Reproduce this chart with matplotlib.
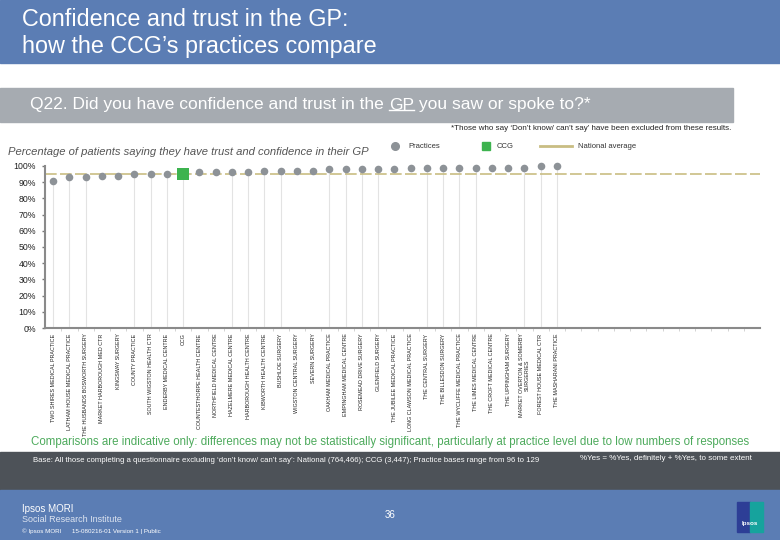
import matplotlib.pyplot as plt
from matplotlib.patches import Rectangle

# data (percent saying they have trust / confidence)
practices = [
    "TWO SHIRES MEDICAL PRACTICE",
    "LATHAM HOUSE MEDICAL PRACTICE",
    "THE HUSBANDS BOSWORTH SURGERY",
    "MARKET HARBOROUGH MED CTR",
    "KINGSWAY SURGERY",
    "COUNTY PRACTICE",
    "SOUTH WIGSTON HEALTH CTR",
    "ENDERBY MEDICAL CENTRE",
    "CCG",
    "COUNTESTHORPE HEALTH CENTRE",
    "NORTHFIELD MEDICAL CENTRE",
    "HAZELMERE MEDICAL CENTRE",
    "HARBOROUGH HEALTH CENTRE",
    "KIBWORTH HEALTH CENTRE",
    "BUSHLOE SURGERY",
    "WIGSTON CENTRAL SURGERY",
    "SEVERN SURGERY",
    "OAKHAM MEDICAL PRACTICE",
    "EMPINGHAM MEDICAL CENTRE",
    "ROSEMEAD DRIVE SURGERY",
    "GLENFIELD SURGERY",
    "THE JUBILEE MEDICAL PRACTICE",
    "LONG CLAWSON MEDICAL PRACTICE",
    "THE CENTRAL SURGERY",
    "THE BILLESDON SURGERY",
    "THE WYCLIFFE MEDICAL PRACTICE",
    "THE LIMES MEDICAL CENTRE",
    "THE CROFT MEDICAL CENTRE",
    "THE UPPINGHAM SURGERY",
    "MARKET OVERTON & SOMERBY\nSURGERIES",
    "FOREST HOUSE MEDICAL CTR",
    "THE MASHARANI PRACTICE",
]
values = [91, 93, 93, 94, 94, 95, 95, 95, 95,
          96, 96, 96, 96, 97, 97, 97, 97,
          98, 98, 98, 98, 98,
          99, 99, 99, 99, 99, 99, 99, 99,
          100, 100]
national_avg = 95
y_ticks = [0, 10, 20, 30, 40, 50, 60, 70, 80, 90, 100]
n_slots = 44  # axis keeps going past the last practice

W, H = 780, 540
BLUE = '#5b7db4'
GREY_BAR = '#a6abb1'
DARK = '#4d5258'
DOT = '#8d9297'
GREEN = '#3db34f'
KHAKI = '#c9bd83'


def fx(px):
    return px / W


def fy(py):
    return 1 - py / H


fig = plt.figure(figsize=(7.8, 5.4), dpi=100)
fig.patch.set_facecolor('white')
plt.rcParams['font.family'] = ['Liberation Sans', 'DejaVu Sans']

# bands
fig.patches.append(Rectangle((0, fy(63)), 1, 63 / H, transform=fig.transFigure,
                             color=BLUE, zorder=0))
fig.patches.append(Rectangle((0, fy(122)), fx(733), 34 / H, transform=fig.transFigure,
                             color=GREY_BAR, zorder=0))
fig.patches.append(Rectangle((0, fy(490)), 1, 38 / H, transform=fig.transFigure,
                             color=DARK, zorder=0))
fig.patches.append(Rectangle((0, 0), 1, 50 / H, transform=fig.transFigure,
                             color=BLUE, zorder=0))

fig.text(fx(22), fy(19), "Confidence and trust in the GP:", color='white',
         fontsize=16.8, va='center')
fig.text(fx(22), fy(46), "how the CCG\u2019s practices compare", color='white',
         fontsize=16.8, va='center')

# question line with underlined "GP"
fig.canvas.draw()
r = fig.canvas.get_renderer()
qfs = 12.5
q1 = fig.text(fx(30), fy(105), "Q22. Did you have confidence and trust in the ",
              color='white', fontsize=qfs, va='center')
bb = q1.get_window_extent(r)
q2 = fig.text(bb.x1 / W, fy(105), "GP", color='white', fontsize=qfs, va='center')
bb2 = q2.get_window_extent(r)
fig.add_artist(plt.Line2D([bb2.x0 / W, bb2.x1 / W], [bb2.y0 / H + 0.004] * 2,
                          color='white', lw=1, transform=fig.transFigure))
fig.text(bb2.x1 / W, fy(105), " you saw or spoke to?*", color='white',
         fontsize=qfs, va='center')

fig.text(fx(731), fy(128),
         "*Those who say \u2018Don\u2019t know/ can\u2019t say\u2019 have been excluded from these results.",
         fontsize=5.8, ha='right', va='center', color='#222222')
fig.text(fx(8), fy(152),
         "Percentage of patients saying they have trust and confidence in their GP",
         fontsize=8.1, style='italic', color='#555555', va='center')

# legend
fig.add_artist(plt.Line2D([fx(395)], [fy(146)], marker='o', ms=5.5, color=DOT,
                          transform=fig.transFigure))
fig.text(fx(408), fy(146), "Practices", fontsize=5.5, va='center', color='#333333')
fig.add_artist(plt.Line2D([fx(486)], [fy(146)], marker='s', ms=6, color=GREEN,
                          transform=fig.transFigure))
fig.text(fx(497), fy(146), "CCG", fontsize=5.5, va='center', color='#333333')
fig.add_artist(plt.Line2D([fx(540), fx(572)], [fy(146)] * 2, color=KHAKI, lw=2,
                          transform=fig.transFigure))
fig.text(fx(578), fy(146), "National average", fontsize=5.5, va='center', color='#333333')

# chart
ax = fig.add_axes([fx(45), fy(328), fx(760 - 45), (328 - 166) / H])
ax.set_xlim(-0.5, n_slots - 0.5)
ax.set_ylim(0, 100)
x = list(range(len(practices)))
for i, v in enumerate(values):
    if i % 6 not in (3, 4):
        ax.vlines(i, 0, v, color='#e3e3e3', lw=0.8, zorder=1)
ax.axhline(national_avg, color=KHAKI, lw=1.2, ls=(0, (7, 2)), zorder=2)
px = [i for i, n in enumerate(practices) if n != 'CCG']
ax.scatter(px, [values[i] for i in px], s=30, color=DOT, zorder=3, clip_on=False,
           linewidths=0)
ci = practices.index('CCG')
ax.scatter([ci], [values[ci]], s=75, marker='s', color=GREEN, zorder=4,
           clip_on=False, linewidths=0)

for s in ['top', 'right']:
    ax.spines[s].set_visible(False)
ax.spines['left'].set_color('#8a8a8a')
ax.spines['left'].set_linewidth(1.5)
ax.spines['bottom'].set_color('#8a8a8a')
ax.spines['bottom'].set_linewidth(1.5)
ax.set_yticks(y_ticks)
ax.set_yticklabels([f"{t}%" for t in y_ticks], fontsize=6.3, color='#222222')
ax.tick_params(axis='y', length=2.5, width=1, color='#777777', pad=4)
ax.set_xticks([i + 0.5 for i in range(n_slots - 1)], minor=True)
ax.set_xticks(x)
ax.set_xticklabels(practices, rotation=90, fontsize=3.9, color='#222222',
                   va='top', ha='center', linespacing=1.0)
ax.tick_params(axis='x', which='major', length=0, pad=4)
ax.tick_params(axis='x', which='minor', length=2, color='#cccccc')

fig.text(0.5, fy(442),
         "Comparisons are indicative only: differences may not be statistically significant, "
         "particularly at practice level due to low numbers of responses",
         fontsize=8.3, color='#4daa5c', ha='center', va='center')
fig.text(fx(33), fy(460),
         "Base: All those completing a questionnaire excluding \u2018don\u2019t know/ can\u2019t say\u2019: "
         "National (764,466); CCG (3,447); Practice bases range from 96 to 129",
         fontsize=5.6, color='white', va='center')
fig.text(fx(580), fy(459), "%Yes = %Yes, definitely + %Yes, to some extent",
         fontsize=5.8, color='white', va='center')

fig.text(fx(22), fy(509), "Ipsos MORI", fontsize=7, color='white', va='center')
fig.text(fx(22), fy(520), "Social Research Institute", fontsize=6.5, color='#dde4f0',
         va='center')
fig.text(fx(22), fy(531), "\u00a9 Ipsos MORI      15-080216-01 Version 1 | Public",
         fontsize=4.5, color='white', va='center')
fig.text(0.5, fy(515), "36", fontsize=7, color='white', ha='center', va='center')

fig.patches.append(Rectangle((fx(737), fy(532)), fx(13), 30 / H,
                             transform=fig.transFigure, color='#2d3e96', zorder=2))
fig.patches.append(Rectangle((fx(750), fy(532)), fx(13), 30 / H,
                             transform=fig.transFigure, color='#16a39d', zorder=2))
fig.text(fx(750), fy(524), "Ipsos", fontsize=4.5, color='white', ha='center',
         va='center', weight='bold', zorder=3)

fig.savefig("out.png", dpi=100)
